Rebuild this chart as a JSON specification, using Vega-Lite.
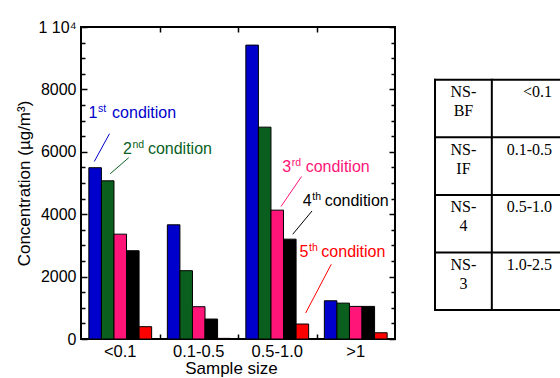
{
  "$schema": "https://vega.github.io/schema/vega-lite/v6.json",
  "background": "white",
  "padding": {"left": 14, "top": 18, "right": 0, "bottom": 0},
  "spacing": 36,
  "config": {
    "font": "Liberation Sans",
    "view": {"stroke": null},
    "axis": {"labelColor": "black", "titleColor": "black", "tickColor": "black", "titleFontWeight": "normal", "grid": false, "domain": false}
  },
  "datasets": {
    "bars": [
      {"size": "<0.1", "cond": "1st", "value": 5490},
      {"size": "<0.1", "cond": "2nd", "value": 5070},
      {"size": "<0.1", "cond": "3rd", "value": 3360},
      {"size": "<0.1", "cond": "4th", "value": 2830},
      {"size": "<0.1", "cond": "5th", "value": 395},
      {"size": "0.1-0.5", "cond": "1st", "value": 3660},
      {"size": "0.1-0.5", "cond": "2nd", "value": 2190},
      {"size": "0.1-0.5", "cond": "3rd", "value": 1035},
      {"size": "0.1-0.5", "cond": "4th", "value": 640},
      {"size": "0.1-0.5", "cond": "5th", "value": 20},
      {"size": "0.5-1.0", "cond": "1st", "value": 9420},
      {"size": "0.5-1.0", "cond": "2nd", "value": 6790},
      {"size": "0.5-1.0", "cond": "3rd", "value": 4130},
      {"size": "0.5-1.0", "cond": "4th", "value": 3200},
      {"size": "0.5-1.0", "cond": "5th", "value": 480},
      {"size": ">1", "cond": "1st", "value": 1225},
      {"size": ">1", "cond": "2nd", "value": 1150},
      {"size": ">1", "cond": "3rd", "value": 1045},
      {"size": ">1", "cond": "4th", "value": 1045},
      {"size": ">1", "cond": "5th", "value": 200}
    ],
    "notes": [
      {"cond": "1st", "num": "1", "sup": "st", "word": "condition", "nx": 0.096, "wx": 0.396, "ny": 7074, "lx1": 0.363, "ly1": 6580, "lx2": 0.169, "ly2": 5689},
      {"cond": "2nd", "num": "2", "sup": "nd", "word": "condition", "nx": 0.535, "wx": 0.852, "ny": 5936, "lx1": 0.608, "ly1": 5811, "lx2": 0.373, "ly2": 5298},
      {"cond": "3rd", "num": "3", "sup": "rd", "word": "condition", "nx": 2.564, "wx": 2.862, "ny": 5362, "lx1": 2.809, "ly1": 5208, "lx2": 2.548, "ly2": 4247},
      {"cond": "4th", "num": "4", "sup": "th", "word": "condition", "nx": 2.826, "wx": 3.104, "ny": 4263, "lx1": 2.943, "ly1": 4103, "lx2": 2.697, "ly2": 3356},
      {"cond": "5th", "num": "5", "sup": "th", "word": "condition", "nx": 2.785, "wx": 3.062, "ny": 2628, "lx1": 3.188, "ly1": 2394, "lx2": 2.862, "ly2": 833}
    ],
    "tlines": [
      {"x1": 0, "x2": 2.2, "y1": 0, "y2": 0},
      {"x1": 0, "x2": 2.2, "y1": 1, "y2": 1},
      {"x1": 0, "x2": 2.2, "y1": 2, "y2": 2},
      {"x1": 0, "x2": 2.2, "y1": 3, "y2": 3},
      {"x1": 0, "x2": 2.2, "y1": 4, "y2": 4},
      {"x1": 0, "x2": 0, "y1": 0, "y2": 4},
      {"x1": 1, "x2": 1, "y1": 0, "y2": 4}
    ],
    "tcells": [
      {"row": 0, "col": "name", "tx": 0.5, "label": ["NS-", "BF"]},
      {"row": 1, "col": "name", "tx": 0.5, "label": ["NS-", "IF"]},
      {"row": 2, "col": "name", "tx": 0.5, "label": ["NS-", "4"]},
      {"row": 3, "col": "name", "tx": 0.5, "label": ["NS-", "3"]},
      {"row": 0, "col": "range", "tx": 2.059, "label": "<0.1"},
      {"row": 1, "col": "range", "tx": 2.059, "label": "0.1-0.5"},
      {"row": 2, "col": "range", "tx": 2.059, "label": "0.5-1.0"},
      {"row": 3, "col": "range", "tx": 2.059, "label": "1.0-2.5"}
    ]
  },
  "hconcat": [
    {
      "width": 314,
      "height": 312,
      "view": {"stroke": "black", "strokeWidth": 2},
      "resolve": {"scale": {"x": "independent"}, "axis": {"y": "independent"}},
      "layer": [
        {
          "data": {"name": "bars"},
          "mark": {"type": "bar", "stroke": "black", "strokeWidth": 1},
          "encoding": {
            "x": {
              "field": "size", "type": "nominal",
              "sort": ["<0.1", "0.1-0.5", "0.5-1.0", ">1"],
              "scale": {"paddingInner": 0, "paddingOuter": 0},
              "axis": {"orient": "bottom", "title": "Sample size", "titleFontSize": 17, "labelFontSize": 16.5, "labelAngle": 0, "ticks": false, "labelPadding": 4, "titlePadding": 1, "titleX": 150}
            },
            "xOffset": {
              "field": "cond", "type": "nominal",
              "sort": ["1st", "2nd", "3rd", "4th", "5th"],
              "scale": {"paddingInner": 0, "paddingOuter": 0.625}
            },
            "y": {
              "field": "value", "type": "quantitative",
              "scale": {"domain": [0, 10000], "nice": false},
              "axis": {"orient": "left", "values": [0, 2000, 4000, 6000, 8000, 10000], "format": "d", "labelExpr": "datum.value == 10000 ? '1 10⁴' : datum.label", "tickSize": -6, "tickWidth": 1.5, "labelFontSize": 16, "labelPadding": 11, "title": "Concentration (µg/m³)", "titleFontSize": 17, "titlePadding": 4}
            },
            "color": {
              "field": "cond", "type": "nominal",
              "scale": {"domain": ["1st", "2nd", "3rd", "4th", "5th"], "range": ["#0000CC", "#0A5F1E", "#FF1478", "#000000", "#FF0000"]},
              "legend": null
            }
          }
        },
        {
          "data": {"name": "notes"},
          "mark": {"type": "rule", "strokeWidth": 1},
          "encoding": {
            "x": {"field": "lx1", "type": "quantitative", "scale": {"domain": [0, 4], "nice": false, "zero": false}, "axis": {"orient": "top", "values": [1, 2, 3], "labels": false, "tickSize": -5, "tickWidth": 1.5, "title": null}},
            "x2": {"field": "lx2"},
            "y": {"field": "ly1", "type": "quantitative", "scale": {"domain": [0, 10000], "nice": false}, "axis": {"orient": "left", "values": [500, 1000, 1500, 2500, 3000, 3500, 4500, 5000, 5500, 6500, 7000, 7500, 8500, 9000, 9500], "labels": false, "tickSize": -4, "tickWidth": 1.5, "title": null}},
            "y2": {"field": "ly2"},
            "color": {"field": "cond", "type": "nominal", "legend": null}
          }
        },
        {
          "data": {"name": "notes"},
          "mark": {"type": "text", "align": "left", "baseline": "alphabetic", "fontSize": 16},
          "encoding": {
            "x": {"field": "nx", "type": "quantitative", "scale": {"domain": [0, 4], "nice": false, "zero": false}, "axis": {"orient": "bottom", "values": [1, 2, 3], "labels": false, "tickSize": -5, "tickWidth": 1.5, "title": null}},
            "y": {"field": "ny", "type": "quantitative", "scale": {"domain": [0, 10000], "nice": false}, "axis": {"orient": "right", "values": [0, 2000, 4000, 6000, 8000, 10000], "labels": false, "tickSize": -6, "tickWidth": 1.5, "title": null}},
            "text": {"field": "num"},
            "color": {"field": "cond", "type": "nominal", "legend": null}
          }
        },
        {
          "data": {"name": "notes"},
          "mark": {"type": "text", "align": "left", "baseline": "alphabetic", "fontSize": 10.5, "dx": 9.5, "dy": -6},
          "encoding": {
            "x": {"field": "nx", "type": "quantitative", "scale": {"domain": [0, 4], "nice": false, "zero": false}, "axis": null},
            "y": {"field": "ny", "type": "quantitative", "scale": {"domain": [0, 10000], "nice": false}, "axis": {"orient": "right", "values": [500, 1000, 1500, 2500, 3000, 3500, 4500, 5000, 5500, 6500, 7000, 7500, 8500, 9000, 9500], "labels": false, "tickSize": -4, "tickWidth": 1.5, "title": null}},
            "text": {"field": "sup"},
            "color": {"field": "cond", "type": "nominal", "legend": null}
          }
        },
        {
          "data": {"name": "notes"},
          "mark": {"type": "text", "align": "left", "baseline": "alphabetic", "fontSize": 16},
          "encoding": {
            "x": {"field": "wx", "type": "quantitative", "scale": {"domain": [0, 4], "nice": false, "zero": false}, "axis": null},
            "y": {"field": "ny", "type": "quantitative", "scale": {"domain": [0, 10000], "nice": false}, "axis": null},
            "text": {"field": "word"},
            "color": {"field": "cond", "type": "nominal", "legend": null}
          }
        }
      ]
    },
    {
      "width": 125,
      "height": 283,
      "layer": [
        {
          "data": {"name": "tlines"},
          "mark": {"type": "rule", "strokeWidth": 2, "color": "black", "strokeCap": "square"},
          "encoding": {
            "x": {"field": "x1", "type": "quantitative", "scale": {"domain": [0, 2.2], "nice": false, "zero": false}, "axis": null},
            "x2": {"field": "x2"},
            "y": {"field": "y1", "type": "quantitative", "scale": {"domain": [-0.917, 4], "reverse": true, "nice": false, "zero": false}, "axis": null},
            "y2": {"field": "y2"}
          }
        },
        {
          "data": {"name": "tcells"},
          "transform": [{"filter": "datum.col == 'name'"}],
          "mark": {"type": "text", "font": "Liberation Serif", "fontSize": 16, "align": "center", "baseline": "alphabetic", "lineHeight": 19, "dy": 17.5, "color": "black"},
          "encoding": {
            "x": {"field": "tx", "type": "quantitative", "scale": {"domain": [0, 2.2], "nice": false, "zero": false}, "axis": null},
            "y": {"field": "row", "type": "quantitative", "scale": {"domain": [-0.917, 4], "reverse": true, "nice": false, "zero": false}, "axis": null},
            "text": {"field": "label"}
          }
        },
        {
          "data": {"name": "tcells"},
          "transform": [{"filter": "datum.col == 'range'"}],
          "mark": {"type": "text", "font": "Liberation Serif", "fontSize": 16, "align": "right", "baseline": "alphabetic", "dy": 17.5, "color": "black"},
          "encoding": {
            "x": {"field": "tx", "type": "quantitative", "scale": {"domain": [0, 2.2], "nice": false, "zero": false}, "axis": null},
            "y": {"field": "row", "type": "quantitative", "scale": {"domain": [-0.917, 4], "reverse": true, "nice": false, "zero": false}, "axis": null},
            "text": {"field": "label"}
          }
        }
      ]
    }
  ]
}
